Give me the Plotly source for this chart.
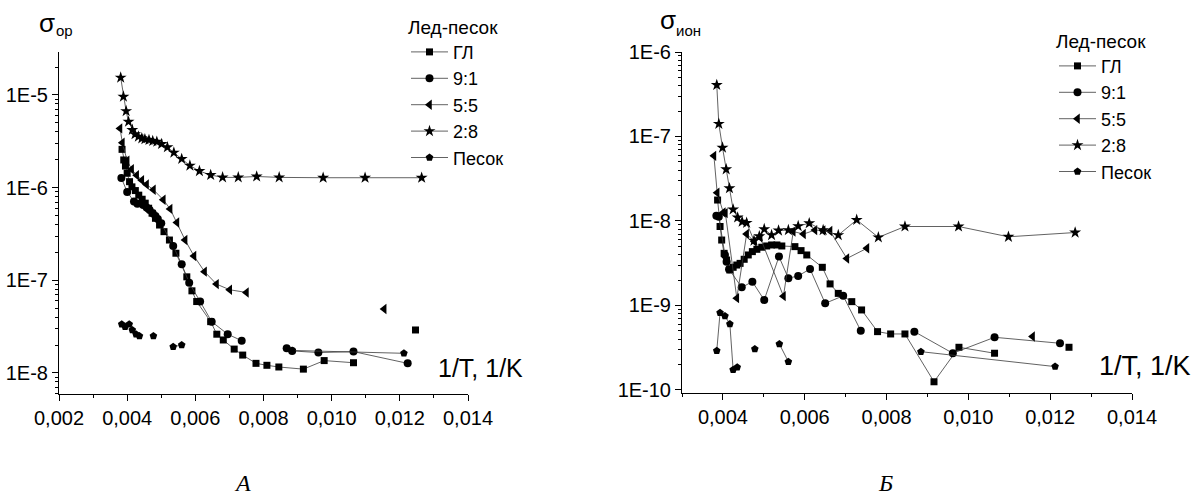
import plotly.graph_objects as go

W, H = 1193, 499

# ---------------- Data: panel A (sigma_op) ----------------
A_gl_x = [0.00385, 0.0039, 0.00395, 0.0040, 0.00407, 0.00414, 0.00424, 0.00434, 0.00444, 0.00453,
          0.00463, 0.00473, 0.00483, 0.00495, 0.00508, 0.00524, 0.00543, 0.00575, 0.0059, 0.00604,
          0.00645, 0.00663, 0.00682, 0.00714, 0.00739, 0.00778, 0.0081, 0.00845, 0.00917, 0.00978,
          0.01064, None, 0.01246]
A_gl_y = [2.59e-6, 1.99e-6, 1.71e-6, 1.43e-6, 1.16e-6, 1.02e-6, 9.3e-7, 8.3e-7, 7.5e-7, 6.8e-7,
          6.0e-7, 5.3e-7, 4.67e-7, 3.95e-7, 3.35e-7, 2.72e-7, 1.96e-7, 1.09e-7, 7.7e-8, 5.9e-8,
          3.58e-8, 2.62e-8, 2.27e-8, 1.81e-8, 1.56e-8, 1.27e-8, 1.21e-8, 1.16e-8, 1.10e-8, 1.36e-8,
          1.29e-8, None, 2.91e-8]

A_91_x = [0.00383, 0.0040, 0.0042, 0.0043, 0.00447, 0.00457, 0.00466, 0.00475, 0.00483, 0.0049,
          0.0050, 0.00535, 0.0056, 0.00582, 0.00614, 0.00648, 0.00695, 0.00736, None,
          0.00868, 0.00884, 0.00961, 0.01064, 0.01223]
A_91_y = [1.27e-6, 9.0e-7, 7.1e-7, 6.7e-7, 6.5e-7, 6.1e-7, 5.75e-7, 5.3e-7, 4.94e-7, 4.6e-7,
          4.12e-7, 2.35e-7, 1.49e-7, 9.4e-8, 5.9e-8, 3.58e-8, 2.62e-8, 2.23e-8, None,
          1.85e-8, 1.73e-8, 1.66e-8, 1.70e-8, 1.27e-8]

A_55_x = [0.00379, 0.00386, 0.0040, 0.00413, 0.00428, 0.00443, 0.00457, 0.00477, 0.00506, 0.00526,
          0.00546, 0.0057, 0.00596, 0.00627, 0.00662, 0.00701, 0.0075, None, 0.01154]
A_55_y = [4.36e-6, 3.05e-6, 1.95e-6, 1.58e-6, 1.36e-6, 1.2e-6, 1.08e-6, 9.5e-7, 7.4e-7, 5.9e-7,
          4.2e-7, 2.72e-7, 1.83e-7, 1.24e-7, 9.1e-8, 7.9e-8, 7.4e-8, None, 4.9e-8]

A_28_x = [0.00381, 0.00389, 0.00397, 0.00404, 0.00415, 0.00423, 0.00433, 0.00443, 0.00452, 0.00464,
          0.00475, 0.00487, 0.00501, 0.00518, 0.00537, 0.0056, 0.00584, 0.00612, 0.00645, 0.0068,
          0.00726, 0.0078, 0.00846, 0.00975, 0.01098, 0.01264]
A_28_y = [1.54e-5, 9.6e-6, 6.7e-6, 5.15e-6, 4.2e-6, 3.77e-6, 3.55e-6, 3.41e-6, 3.33e-6, 3.27e-6,
          3.19e-6, 3.13e-6, 2.96e-6, 2.73e-6, 2.39e-6, 2.04e-6, 1.73e-6, 1.51e-6, 1.37e-6, 1.29e-6,
          1.29e-6, 1.32e-6, 1.29e-6, 1.28e-6, 1.28e-6, 1.28e-6]

A_sand_x = [0.00384, 0.00394, 0.00406, 0.00415, 0.00426, 0.00436, None, 0.00477, None,
            0.00535, 0.0056, None, 0.00884, 0.01212]
A_sand_y = [3.36e-8, 3.16e-8, 3.36e-8, 2.91e-8, 2.62e-8, 2.51e-8, None, 2.51e-8, None,
            1.92e-8, 2.0e-8, None, 1.75e-8, 1.63e-8]

# ---------------- Data: panel B (sigma_ion) ----------------
B_gl_x = [0.00387, 0.00393, 0.00397, 0.00403, 0.00409, 0.00417, 0.00425, 0.00434, 0.00442, 0.00452,
          0.00462, 0.00472, 0.00483, 0.00495, 0.00507, 0.00519, 0.00532, 0.00544, 0.00576, 0.00591,
          0.00605, 0.00643, 0.00662, 0.00682, 0.00715, 0.00739, 0.00778, 0.0081, 0.00845, 0.00916,
          0.00977, 0.01064, None, 0.01246]
B_gl_y = [1.77e-8, 8.6e-9, 5.95e-9, 4.14e-9, 3.45e-9, 2.63e-9, 2.83e-9, 3.01e-9, 3.15e-9, 3.52e-9,
          3.96e-9, 4.34e-9, 4.62e-9, 4.89e-9, 5.06e-9, 5.2e-9, 5.2e-9, 5.06e-9, 4.97e-9, 4.46e-9,
          3.96e-9, 2.83e-9, 1.8e-9, 1.39e-9, 1.11e-9, 8.85e-10, 4.9e-10, 4.6e-10, 4.6e-10, 1.25e-10,
          3.2e-10, 2.72e-10, None, 3.2e-10]

B_91_x = [0.00384, 0.0039, 0.00405, 0.00409, 0.00415, 0.00446, 0.00472, 0.00501, 0.00537, 0.0056,
          0.00584, 0.00613, 0.0065, 0.00694, 0.00737, None, 0.00868, 0.00962, 0.01064, 0.01224]
B_91_y = [1.15e-8, 1.12e-8, 3.96e-9, 3.3e-9, 2.68e-9, 1.64e-9, 1.91e-9, 1.16e-9, 3.79e-9, 2.1e-9,
          2.24e-9, 2.7e-9, 1.06e-9, 1.3e-9, 5.03e-10, None, 4.9e-10, 2.72e-10, 4.2e-10, 3.57e-10]

B_55_x = [0.00378, 0.00386, 0.00401, 0.00406, 0.00434, 0.00458, 0.00477, 0.00491, 0.00548, 0.00572,
          0.00597, 0.00625, 0.00645, 0.00662, 0.00703, 0.00752, None, 0.01157]
B_55_y = [5.9e-8, 2.16e-8, 1.26e-8, 1.24e-8, 1.22e-9, 7.0e-9, 5.7e-9, 6.4e-9, 1.29e-9, 7.5e-9,
          7.0e-9, 7.8e-9, 7.7e-9, 7.6e-9, 3.6e-9, 4.75e-9, None, 4.3e-10]

B_28_x = [0.00385, 0.0039, 0.00399, 0.00408, 0.00416, 0.00425, 0.00436, 0.00447, 0.00458, 0.00476,
          0.00489, 0.00501, 0.00519, 0.00536, 0.0056, 0.00584, 0.00611, 0.00645, 0.00682, 0.00727,
          0.0078, 0.00845, 0.00976, 0.01098, 0.01261]
B_28_y = [4.07e-7, 1.41e-7, 7.38e-8, 4.09e-8, 2.44e-8, 1.37e-8, 1.1e-8, 9.8e-9, 9.5e-9, 5.85e-9,
          6.6e-9, 8.0e-9, 6.8e-9, 7.7e-9, 7.8e-9, 8.7e-9, 9.4e-9, 7.8e-9, 6.8e-9, 1.03e-8,
          6.4e-9, 8.6e-9, 8.6e-9, 6.5e-9, 7.3e-9]

B_sand_x = [0.00385, 0.00393, 0.00405, 0.00417, 0.00425, 0.00435, None, 0.00478, None,
            0.00538, 0.0056, None, 0.00884, 0.01212]
B_sand_y = [2.92e-10, 8.2e-10, 7.5e-10, 6.04e-10, 1.73e-10, 1.86e-10, None, 3.05e-10, None,
            3.5e-10, 2.16e-10, None, 2.84e-10, 1.89e-10]

names = ["ГЛ", "9:1", "5:5", "2:8", "Песок"]
symbols = ["square", "circle", "triangle-left", "star", "pentagon"]
sizes = [7, 8, 9, 9, 8]

A_series = [(A_gl_x, A_gl_y), (A_91_x, A_91_y), (A_55_x, A_55_y), (A_28_x, A_28_y), (A_sand_x, A_sand_y)]
B_series = [(B_gl_x, B_gl_y), (B_91_x, B_91_y), (B_55_x, B_55_y), (B_28_x, B_28_y), (B_sand_x, B_sand_y)]

A_yticks = [1e-8, 1e-7, 1e-6, 1e-5]
A_ytext = ["1E-8", "1E-7", "1E-6", "1E-5"]
B_yticks = [1e-10, 1e-9, 1e-8, 1e-7, 1e-6]
B_ytext = ["1E-10", "1E-9", "1E-8", "1E-7", "1E-6"]

FONT = "Liberation Sans"
SERIF = "Liberation Serif"
LINE = "#3a3a3a"

fig = go.Figure()
for (xs, ys), nm, sym, sz in zip(A_series, names, symbols, sizes):
    fig.add_trace(go.Scatter(x=xs, y=ys, name=nm, mode="lines+markers", xaxis="x", yaxis="y",
                             line=dict(color=LINE, width=0.8),
                             marker=dict(symbol=sym, size=sz, color="black", line=dict(width=0)),
                             legend="legend"))
for (xs, ys), nm, sym, sz in zip(B_series, names, symbols, sizes):
    fig.add_trace(go.Scatter(x=xs, y=ys, name=nm, mode="lines+markers", xaxis="x2", yaxis="y2",
                             line=dict(color=LINE, width=0.8),
                             marker=dict(symbol=sym, size=sz, color="black", line=dict(width=0)),
                             legend="legend2"))


def minor_vals(lo, hi):
    vals = []
    for e in range(lo, hi):
        for m in range(2, 10):
            vals.append(m * 10.0 ** e)
    return vals


def px_x(p):
    return p / W


def px_y(p):
    return 1 - p / H


axis_common = dict(showline=True, linecolor="black", linewidth=1, showgrid=False, zeroline=False,
                   ticks="outside", ticklen=6, tickwidth=1, tickcolor="black", automargin=False,
                   tickfont=dict(family=FONT, size=20, color="black"))

legend_common = dict(xanchor="left", yanchor="top", bgcolor="rgba(0,0,0,0)", borderwidth=0, itemwidth=37,
                     font=dict(family=FONT, size=18, color="black"),
                     title=dict(text="Лед-песок", font=dict(family=FONT, size=19, color="black")))

fig.update_layout(
    width=W, height=H,
    margin=dict(l=0, r=0, t=0, b=0, pad=0, autoexpand=False),
    paper_bgcolor="white", plot_bgcolor="white",
    separators=", ",
    font=dict(family=FONT, color="black"),
    xaxis=dict(domain=[px_x(59), px_x(468)], range=[0.002, 0.014], anchor="y",
               tickmode="linear", tick0=0.002, dtick=0.002, tickformat=".3f",
               minor=dict(ticks="outside", ticklen=3, tickcolor="black", dtick=0.001, tick0=0.002, showgrid=False),
               **axis_common),
    yaxis=dict(domain=[px_y(394), px_y(52)], type="log", range=[-8.227, -4.536], anchor="x",
               tickmode="array", tickvals=A_yticks, ticktext=A_ytext,
               minor=dict(ticks="outside", ticklen=3, tickcolor="black", tickmode="array",
                          tickvals=minor_vals(-9, -4), showgrid=False),
               **axis_common),
    xaxis2=dict(domain=[px_x(682), px_x(1132)], range=[0.003, 0.014], anchor="y2",
                tickmode="linear", tick0=0.002, dtick=0.002, tickformat=".3f",
                minor=dict(ticks="outside", ticklen=3, tickcolor="black", dtick=0.001, tick0=0.002, showgrid=False),
                **axis_common),
    yaxis2=dict(domain=[px_y(393), px_y(52)], type="log", range=[-10.036, -6], anchor="x2",
                tickmode="array", tickvals=B_yticks, ticktext=B_ytext,
                minor=dict(ticks="outside", ticklen=3, tickcolor="black", tickmode="array",
                           tickvals=minor_vals(-11, -6), showgrid=False),
                **axis_common),
    legend=dict(x=px_x(406), y=px_y(9), **legend_common),
    legend2=dict(x=px_x(1054), y=px_y(23), **legend_common),
    showlegend=True,
)

annots = [
    dict(text="σ", x=px_x(37), y=px_y(23), xanchor="left", yanchor="middle",
         font=dict(family=FONT, size=26)),
    dict(text="ор", x=px_x(54), y=px_y(31), xanchor="left", yanchor="middle",
         font=dict(family=FONT, size=15)),
    dict(text="σ", x=px_x(658), y=px_y(20), xanchor="left", yanchor="middle",
         font=dict(family=FONT, size=26)),
    dict(text="ион", x=px_x(674), y=px_y(31), xanchor="left", yanchor="middle",
         font=dict(family=FONT, size=15)),
    dict(text="1/T, 1/K", x=px_x(436), y=px_y(368), xanchor="left", yanchor="middle",
         font=dict(family=FONT, size=25)),
    dict(text="1/T, 1/K", x=px_x(1097), y=px_y(366), xanchor="left", yanchor="middle",
         font=dict(family=FONT, size=27)),
    dict(text="<i>A</i>", x=px_x(242), y=px_y(483), xanchor="center", yanchor="middle",
         font=dict(family=SERIF, size=24)),
    dict(text="<i>Б</i>", x=px_x(886), y=px_y(483), xanchor="center", yanchor="middle",
         font=dict(family=SERIF, size=24)),
]
for a in annots:
    fig.add_annotation(xref="paper", yref="paper", showarrow=False, **a)

fig.write_html("out.html")
